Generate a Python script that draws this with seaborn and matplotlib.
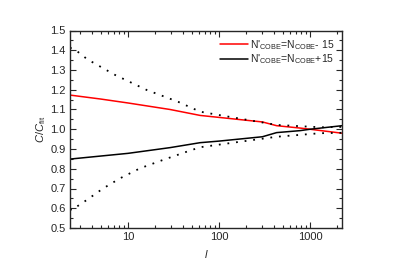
import pandas as pd
import seaborn as sns
import matplotlib.pyplot as plt
from matplotlib.ticker import MultipleLocator, LogLocator, NullFormatter, FixedLocator

# valores
l_red = [2.3, 5, 10, 29, 62, 100, 300, 430, 780, 1000, 2250]
c_red = [1.173, 1.153, 1.133, 1.10, 1.07, 1.06, 1.037, 1.018, 1.006, 1.0, 0.98]

l_black = [2.3, 10, 29, 62, 100, 300, 430, 780, 1000, 2250]
c_black = [0.849, 0.878, 0.907, 0.932, 0.94, 0.962, 0.983, 0.993, 1.0, 1.018]

l_up = [2.3, 2.7, 3.57, 7.2, 16, 35.5, 62, 100, 430, 1300, 2250]
c_up = [1.413, 1.398, 1.354, 1.275, 1.199, 1.139, 1.089, 1.072, 1.022, 1.01, 1.012]

l_lo = [2.3, 2.4, 3.52, 5.3, 8.2, 13.5, 24, 44, 62, 430, 1300, 2250]
c_lo = [0.595, 0.591, 0.642, 0.70, 0.752, 0.802, 0.844, 0.886, 0.909, 0.962, 0.98, 0.982]

sns.set_style('ticks')
plt.rcParams['font.family'] = ['Liberation Sans', 'DejaVu Sans']
plt.rcParams['mathtext.fontset'] = 'custom'
plt.rcParams['mathtext.rm'] = 'Liberation Sans'
plt.rcParams['mathtext.it'] = 'Liberation Sans:italic'

fig = plt.figure(figsize=(3.98, 2.75), dpi=100)
ax = fig.add_axes([70 / 398, 1 - 228 / 275, 272 / 398, 197.5 / 275])

sns.lineplot(x=l_red, y=c_red, color='red', lw=1.1, ax=ax,
             label="N'$_{\\rm COBE}$=N$_{\\rm COBE}$- 15")
sns.lineplot(x=l_black, y=c_black, color='black', lw=1.1, ax=ax,
             label="N'$_{\\rm COBE}$=N$_{\\rm COBE}$+15")
sns.lineplot(x=l_up, y=c_up, color='black', lw=1.3, ls=(0, (1, 3.8)), ax=ax)
sns.lineplot(x=l_lo, y=c_lo, color='black', lw=1.3, ls=(0, (1, 3.8)), ax=ax)

ax.set_xscale('log')
ax.set_xlim(2.3, 2250)
ax.set_ylim(0.5, 1.5)
ax.yaxis.set_major_locator(MultipleLocator(0.1))
ax.yaxis.set_minor_locator(MultipleLocator(0.05))
ax.xaxis.set_major_locator(FixedLocator([10, 100, 1000]))
ax.xaxis.set_minor_locator(LogLocator(base=10, subs=range(2, 10)))
ax.xaxis.set_minor_formatter(NullFormatter())
ax.set_xticklabels(['10', '100', '1000'])
ax.tick_params(which='both', direction='in', top=True, right=True, labelsize=8, width=0.8, pad=3)
ax.tick_params(which='major', length=4)
ax.tick_params(which='minor', length=2)
for s in ax.spines.values():
    s.set_linewidth(1.0)

ax.set_xlabel('$l$', fontsize=8, fontstyle='italic', labelpad=4)
ax.set_ylabel('$C/C_{\\rm fit}$', fontsize=8, labelpad=2)

leg = ax.legend(loc='upper right', frameon=False, fontsize=7.5, handlelength=2.7,
                borderaxespad=0.3, labelspacing=0.1, handletextpad=0.2)

plt.savefig('out.png', dpi=100)
plt.close()
